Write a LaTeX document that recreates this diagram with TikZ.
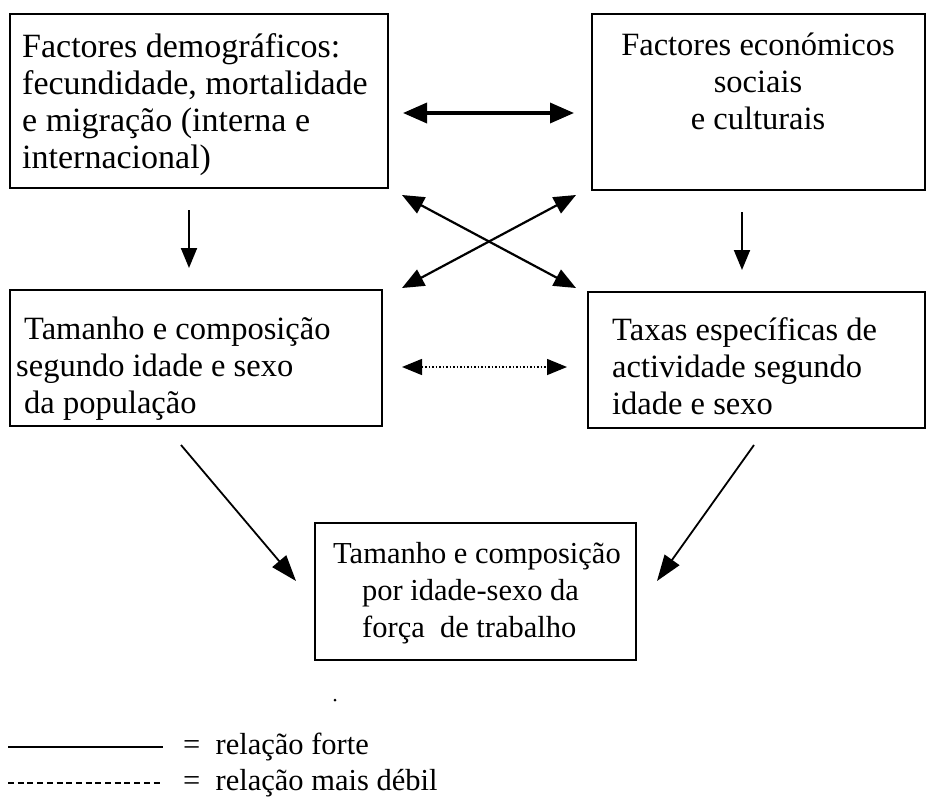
\documentclass[tikz,border=0pt]{standalone}
\usepackage{fontspec}
\setmainfont{Liberation Serif}
\usetikzlibrary{arrows.meta}
\begin{document}
\begin{tikzpicture}[x=1pt,y=-1pt,
  box/.style={draw, line width=2.5pt, inner sep=0pt},
  txt/.style={inner sep=0pt, font=\fontsize{30.5}{37}\selectfont},
  bigtxt/.style={inner sep=0pt, font=\fontsize{34}{37}\selectfont},
  medtxt/.style={inner sep=0pt, font=\fontsize{32.5}{37}\selectfont},
  strongarrow/.style={line width=2.2pt, {Triangle[length=22pt,width=18pt]}-{Triangle[length=22pt,width=18pt]}},
  downarrow/.style={line width=2pt, -{Triangle[length=20pt,width=16pt]}},
  diagarrow/.style={line width=1.8pt, -{Triangle[length=26pt,width=18pt]}},
  weakarrow/.style={line width=1.5pt, dotted, {Triangle[length=20pt,width=16pt]}-{Triangle[length=20pt,width=16pt]}},
]
\useasboundingbox (0,0) rectangle (927,803);
% boxes
\node[box, minimum width=378pt, minimum height=174pt] (b1) at (199,101) {};
\node[box, minimum width=333pt, minimum height=176pt] (b2) at (758.5,102) {};
\node[box, minimum width=372pt, minimum height=136pt] (b3) at (196,358) {};
\node[box, minimum width=337pt, minimum height=136pt] (b4) at (756.5,360) {};
\node[box, minimum width=321pt, minimum height=137pt] (b5) at (475.5,591.5) {};
% texts
\node[bigtxt, align=left, anchor=north west] (t1) at (22,33)
  {Factores demográficos:\\fecundidade, mortalidade\\e migração (interna e\\internacional)};
\node[medtxt, align=center, anchor=north] (t2) at (758,33)
  {Factores económicos\\sociais\\e culturais};
\node[medtxt, align=left, anchor=north west] (t3) at (16,317)
  {\hspace*{8pt}Tamanho e composição\\segundo idade e sexo\\\hspace*{8pt}da população};
\node[medtxt, align=left, anchor=north west] (t4) at (612,317)
  {Taxas específicas de\\actividade segundo\\idade e sexo};
\node[txt, align=left, anchor=north west] (t5) at (333,542)
  {Tamanho e composição\\\hspace*{29pt}por idade-sexo da\\\hspace*{29pt}força\ \ de trabalho};
% arrow end points
\coordinate (h1) at (403,113);  \coordinate (h2) at (574,113);
\coordinate (x1) at (402,195);  \coordinate (x2) at (576,288);
\coordinate (x3) at (576,195);  \coordinate (x4) at (402,288);
\coordinate (v1) at (189,210);  \coordinate (v2) at (189,268);
\coordinate (v3) at (742,212);  \coordinate (v4) at (742,270);
\coordinate (d1) at (402,367);  \coordinate (d2) at (567,367);
\coordinate (g1) at (181,445);  \coordinate (g2) at (296,581);
\coordinate (g3) at (754,445);  \coordinate (g4) at (657,581);
% arrows
\draw[line width=3.5pt, {Triangle[length=24pt,width=20pt]}-{Triangle[length=24pt,width=20pt]}] (h1) -- (h2);
\draw[strongarrow] (x1) -- (x2);
\draw[strongarrow] (x3) -- (x4);
\draw[downarrow] (v1) -- (v2);
\draw[downarrow] (v3) -- (v4);
\draw[weakarrow] (d1) -- (d2);
\draw[diagarrow] (g1) -- (g2);
\draw[diagarrow] (g3) -- (g4);
% stray dot
\fill (335,700) circle (1.5pt);
% legend
\coordinate (la) at (8,747); \coordinate (lb) at (163,747);
\coordinate (lc) at (8,783); \coordinate (ld) at (163,783);
\draw[line width=2pt] (la) -- (lb);
\draw[line width=1.6pt, dash pattern=on 6pt off 3.7pt] (lc) -- (ld);
\node[txt, anchor=west] (k1) at (183,747) {=\ \ relação forte};
\node[txt, anchor=west] (k2) at (183,783) {=\ \ relação mais débil};
\end{tikzpicture}
\end{document}
